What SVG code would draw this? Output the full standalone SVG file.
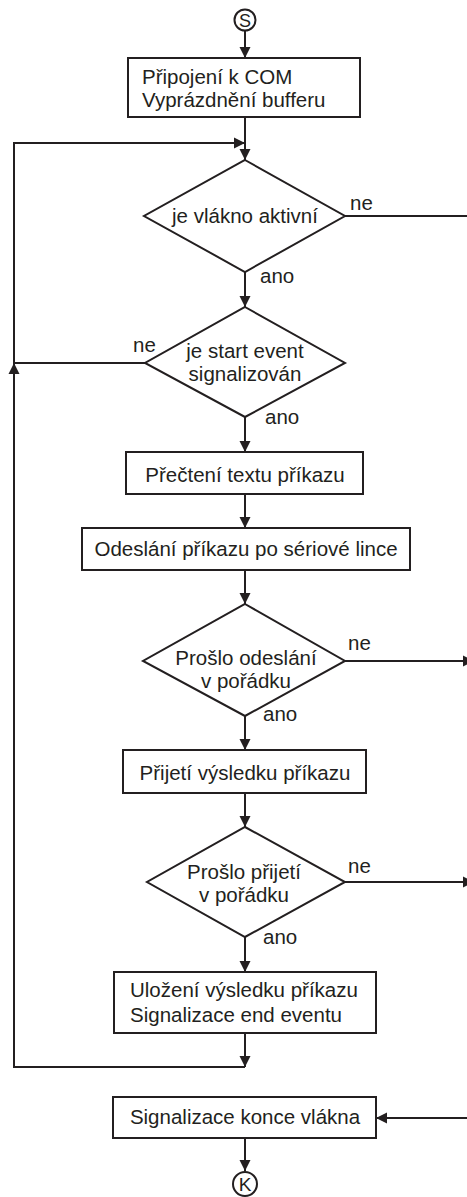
<svg xmlns="http://www.w3.org/2000/svg" width="467" height="1197" viewBox="0 0 467 1197">
<defs>
<marker id="ah" markerUnits="userSpaceOnUse" markerWidth="12" markerHeight="12" refX="11" refY="6" orient="auto">
<path d="M0,0.5 L11,6 L0,11.5 z" fill="#231f20"/>
</marker>
</defs>
<style>
.s{fill:#fff;stroke:#231f20;stroke-width:2}
.c{fill:none;stroke:#231f20;stroke-width:2}
.a{fill:none;stroke:#231f20;stroke-width:2;marker-end:url(#ah)}
text{font-family:"Liberation Sans",Arial,sans-serif;font-size:20.5px;fill:#231f20}
.m{text-anchor:middle}
</style>
<rect width="467" height="1197" fill="#fff"/>
<g id="connectors">
<path class="a" d="M245,31 L245,58"/>
<path class="a" d="M245,117 L245,160"/>
<path class="a" d="M245,272 L245,307"/>
<path class="c" d="M345,216 L467,216"/>
<path class="a" d="M245,417 L245,452"/>
<path class="a" d="M145,363 L14,363 L14,143 L245,143"/>
<path class="a" d="M245,494 L245,528"/>
<path class="a" d="M245,570 L245,604"/>
<path class="a" d="M345,661 L474,661"/>
<path class="a" d="M245,716 L245,750"/>
<path class="a" d="M245,793 L245,827"/>
<path class="a" d="M345,882 L474,882"/>
<path class="a" d="M245,937 L245,972"/>
<path class="a" d="M245,1033 L245,1067"/>
<path class="a" d="M245,1067 L14,1067 L14,363"/>
<path class="a" d="M470,1118 L376,1118"/>
<path class="a" d="M245,1138 L245,1171"/>
<text x="350" y="210">ne</text>
<text x="260" y="283">ano</text>
<text x="133" y="352">ne</text>
<text x="265" y="424">ano</text>
<text x="348" y="650">ne</text>
<text x="263" y="721">ano</text>
<text x="348" y="873">ne</text>
<text x="263" y="944">ano</text>
</g>
<g id="start">
<circle class="s" cx="245" cy="20" r="10.5"/>
<text class="m" x="245" y="27" style="font-size:18px">S</text>
</g>
<g id="init">
<rect class="s" x="128" y="58" width="232" height="59"/>
<text x="142" y="84">Připojení k COM</text>
<text x="142" y="107">Vyprázdnění bufferu</text>
</g>
<g id="d-active">
<polygon class="s" points="245,160 345,216 245,272 144,216"/>
<text class="m" x="245" y="223">je vlákno aktivní</text>
</g>
<g id="d-start">
<polygon class="s" points="245,307 345,363 245,417 145,363"/>
<text class="m" x="245" y="358">je start event</text>
<text class="m" x="245" y="381">signalizován</text>
</g>
<g id="read">
<rect class="s" x="126" y="452" width="237" height="42"/>
<text class="m" x="245" y="482">Přečtení textu příkazu</text>
</g>
<g id="send">
<rect class="s" x="82" y="528" width="328" height="42"/>
<text class="m" x="246" y="556">Odeslání příkazu po sériové lince</text>
</g>
<g id="d-sent">
<polygon class="s" points="245,604 345,661 245,716 143,661"/>
<text class="m" x="246" y="665">Prošlo odeslání</text>
<text class="m" x="246" y="688">v pořádku</text>
</g>
<g id="receive">
<rect class="s" x="123" y="750" width="243" height="43"/>
<text class="m" x="245" y="780">Přijetí výsledku příkazu</text>
</g>
<g id="d-received">
<polygon class="s" points="245,827 345,882 245,937 147,882"/>
<text class="m" x="244" y="879">Prošlo přijetí</text>
<text class="m" x="244" y="902">v pořádku</text>
</g>
<g id="store">
<rect class="s" x="114" y="972" width="262" height="61"/>
<text x="130" y="997">Uložení výsledku příkazu</text>
<text x="130" y="1022">Signalizace end eventu</text>
</g>
<g id="end-signal">
<rect class="s" x="113" y="1097" width="263" height="41"/>
<text class="m" x="245" y="1124">Signalizace konce vlákna</text>
</g>
<g id="end">
<circle class="s" cx="245" cy="1184" r="12"/>
<text class="m" x="245" y="1191" style="font-size:19px">K</text>
</g>
</svg>
